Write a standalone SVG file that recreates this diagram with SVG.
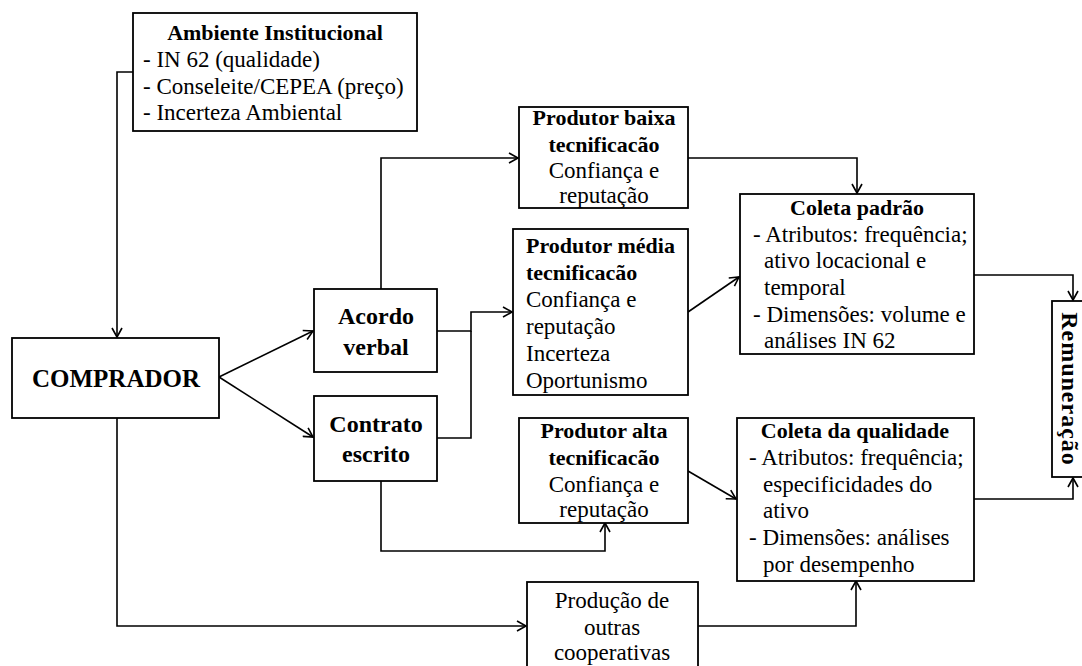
<svg xmlns="http://www.w3.org/2000/svg" width="1082" height="666" viewBox="0 0 1082 666">
<defs>
<marker id="ah" markerUnits="userSpaceOnUse" markerWidth="12" markerHeight="12" refX="10" refY="6" orient="auto">
<path d="M1,1 L10,6 L1,11" fill="none" stroke="#000" stroke-width="1.6"/>
</marker>
<style>
.box{fill:#fff;stroke:#000;stroke-width:1.8}
.c{fill:none;stroke:#000;stroke-width:1.6}
text{font-family:"Liberation Serif","Times New Roman",serif;fill:#000}
.r{font-size:23px}
.b{font-size:22px;font-weight:bold}
.big{font-size:24px;font-weight:bold}
.m{text-anchor:middle}
</style>
</defs>
<rect width="1082" height="666" fill="#fff"/>
<g id="connectors">
<polyline class="c" points="133,72 117,72 117,337" marker-end="url(#ah)"/>
<line class="c" x1="219" y1="377" x2="313" y2="331" marker-end="url(#ah)"/>
<line class="c" x1="219" y1="377" x2="313" y2="437" marker-end="url(#ah)"/>
<polyline class="c" points="381,289 381,158 518,158" marker-end="url(#ah)"/>
<polyline class="c" points="437,331 471,331 471,312 512,312" marker-end="url(#ah)"/>
<polyline class="c" points="437,438 471,438 471,331"/>
<polyline class="c" points="381,481 381,551 605,551 605,523" marker-end="url(#ah)"/>
<polyline class="c" points="117,418 117,626 526,626" marker-end="url(#ah)"/>
<polyline class="c" points="688,158 857,158 857,193" marker-end="url(#ah)"/>
<line class="c" x1="688" y1="312" x2="739" y2="277" marker-end="url(#ah)"/>
<line class="c" x1="688" y1="471" x2="736" y2="499" marker-end="url(#ah)"/>
<polyline class="c" points="698,626 856,626 856,581" marker-end="url(#ah)"/>
<polyline class="c" points="974,275 1073,275 1073,300" marker-end="url(#ah)"/>
<polyline class="c" points="974,499 1073,499 1073,478" marker-end="url(#ah)"/>
</g>
<g id="ambiente">
<rect class="box" x="133" y="13" width="284" height="118"/>
<text class="b m" x="275" y="40">Ambiente Institucional</text>
<text class="r" x="143" y="67">- IN 62 (qualidade)</text>
<text class="r" x="143" y="94">- Conseleite/CEPEA (preço)</text>
<text class="r" x="143" y="120">- Incerteza Ambiental</text>
</g>
<g id="comprador">
<rect class="box" x="12" y="338" width="207" height="80"/>
<text class="m" x="116" y="387" style="font-size:25px;font-weight:bold">COMPRADOR</text>
</g>
<g id="acordo">
<rect class="box" x="314" y="289" width="123" height="83"/>
<text class="big m" x="376" y="324">Acordo</text>
<text class="big m" x="376" y="355">verbal</text>
</g>
<g id="contrato">
<rect class="box" x="314" y="396" width="123" height="85"/>
<text class="big m" x="376" y="432">Contrato</text>
<text class="big m" x="376" y="462">escrito</text>
</g>
<g id="baixa">
<rect class="box" x="519" y="107" width="169" height="101"/>
<text class="b m" x="604" y="125">Produtor baixa</text>
<text class="b m" x="604" y="152">tecnificacão</text>
<text class="r m" x="604" y="178">Confiança e</text>
<text class="r m" x="604" y="203">reputação</text>
</g>
<g id="media">
<rect class="box" x="513" y="229" width="175" height="166"/>
<text class="b" x="526" y="253">Produtor média</text>
<text class="b" x="526" y="280">tecnificacão</text>
<text class="r" x="526" y="307">Confiança e</text>
<text class="r" x="526" y="334">reputação</text>
<text class="r" x="526" y="361">Incerteza</text>
<text class="r" x="526" y="388">Oportunismo</text>
</g>
<g id="alta">
<rect class="box" x="519" y="418" width="169" height="105"/>
<text class="b m" x="604" y="438">Produtor alta</text>
<text class="b m" x="604" y="465">tecnificacão</text>
<text class="r m" x="604" y="492">Confiança e</text>
<text class="r m" x="604" y="517">reputação</text>
</g>
<g id="coleta-padrao">
<rect class="box" x="740" y="194" width="234" height="160"/>
<text class="b m" x="857" y="215">Coleta padrão</text>
<text class="r" x="753" y="242">- Atributos: frequência;</text>
<text class="r" x="764" y="268">ativo locacional e</text>
<text class="r" x="764" y="295">temporal</text>
<text class="r" x="753" y="322">- Dimensões: volume e</text>
<text class="r" x="764" y="348">análises IN 62</text>
</g>
<g id="coleta-qualidade">
<rect class="box" x="737" y="418" width="237" height="163"/>
<text class="b m" x="855" y="438">Coleta da qualidade</text>
<text class="r" x="749" y="465">- Atributos: frequência;</text>
<text class="r" x="763" y="492">especificidades do</text>
<text class="r" x="763" y="518">ativo</text>
<text class="r" x="749" y="545">- Dimensões: análises</text>
<text class="r" x="763" y="572">por desempenho</text>
</g>
<g id="producao">
<rect class="box" x="527" y="582" width="171" height="90"/>
<text class="r m" x="612" y="608">Produção de</text>
<text class="r m" x="612" y="635">outras</text>
<text class="r m" x="612" y="660">cooperativas</text>
</g>
<g id="remuneracao">
<rect class="box" x="1052" y="301" width="34" height="176"/>
<text class="big m" transform="translate(1062,389) rotate(90)" x="0" y="0" style="letter-spacing:1px">Remuneração</text>
</g>
</svg>
